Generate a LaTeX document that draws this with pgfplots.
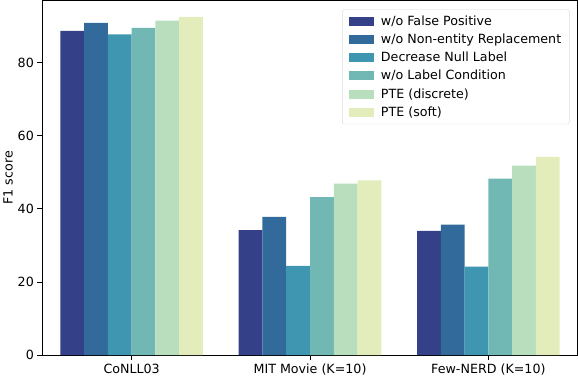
\documentclass[border=0pt]{standalone}
\usepackage{pgfplots}
\pgfplotsset{compat=1.18}
\usepackage{fontspec}
\setmainfont{DejaVu Sans}
\definecolor{c1}{RGB}{52,64,136}
\definecolor{c2}{RGB}{50,107,155}
\definecolor{c3}{RGB}{63,150,176}
\definecolor{c4}{RGB}{113,184,180}
\definecolor{c5}{RGB}{185,222,189}
\definecolor{c6}{RGB}{226,237,187}
\begin{document}
\begin{tikzpicture}
\begin{axis}[
    scale only axis,
    width=528pt, height=350pt,
    xmin=-0.5, xmax=2.5,
    ymin=0, ymax=97,
    ybar, bar width=0.1333,
    xtick={0,1,2},
    xticklabels={CoNLL03, MIT Movie (K=10), Few-NERD (K=10)},
    ytick={0,20,40,60,80},
    ylabel={F1 score},
    ylabel shift=-2pt,
    font=\fontsize{12.5}{15}\selectfont,
    /pgf/number format/assume math mode=true,
    tick align=outside,
    tick pos=left,
    major tick length=5pt,
    axis line style={line width=0.9pt},
    every tick/.style={black, line width=0.9pt},
    legend cell align=left,
    legend style={at={(0.985,0.975)}, anchor=north east, draw=black!15, rounded corners=2pt,
        font=\fontsize{12.5}{15}\selectfont, row sep=3pt, inner xsep=6pt, inner ysep=4pt,
        /tikz/every odd column/.append style={column sep=5pt}},
    legend image code/.code={\fill[#1, sharp corners] (0pt,-4.5pt) rectangle (25pt,4.5pt);},
    every axis plot/.append style={draw=none},
]
\addplot[fill=c1, bar shift=-0.3333] coordinates {(0,88.7) (1,34.2) (2,34.0)};
\addplot[fill=c2, bar shift=-0.2] coordinates {(0,90.9) (1,37.8) (2,35.7)};
\addplot[fill=c3, bar shift=-0.0667] coordinates {(0,87.7) (1,24.4) (2,24.2)};
\addplot[fill=c4, bar shift=0.0667] coordinates {(0,89.5) (1,43.2) (2,48.3)};
\addplot[fill=c5, bar shift=0.2] coordinates {(0,91.5) (1,46.9) (2,51.8)};
\addplot[fill=c6, bar shift=0.3333] coordinates {(0,92.5) (1,47.8) (2,54.2)};
\legend{w/o False Positive, w/o Non-entity Replacement, Decrease Null Label, w/o Label Condition, PTE (discrete), PTE (soft)}
\end{axis}
\end{tikzpicture}
\end{document}
